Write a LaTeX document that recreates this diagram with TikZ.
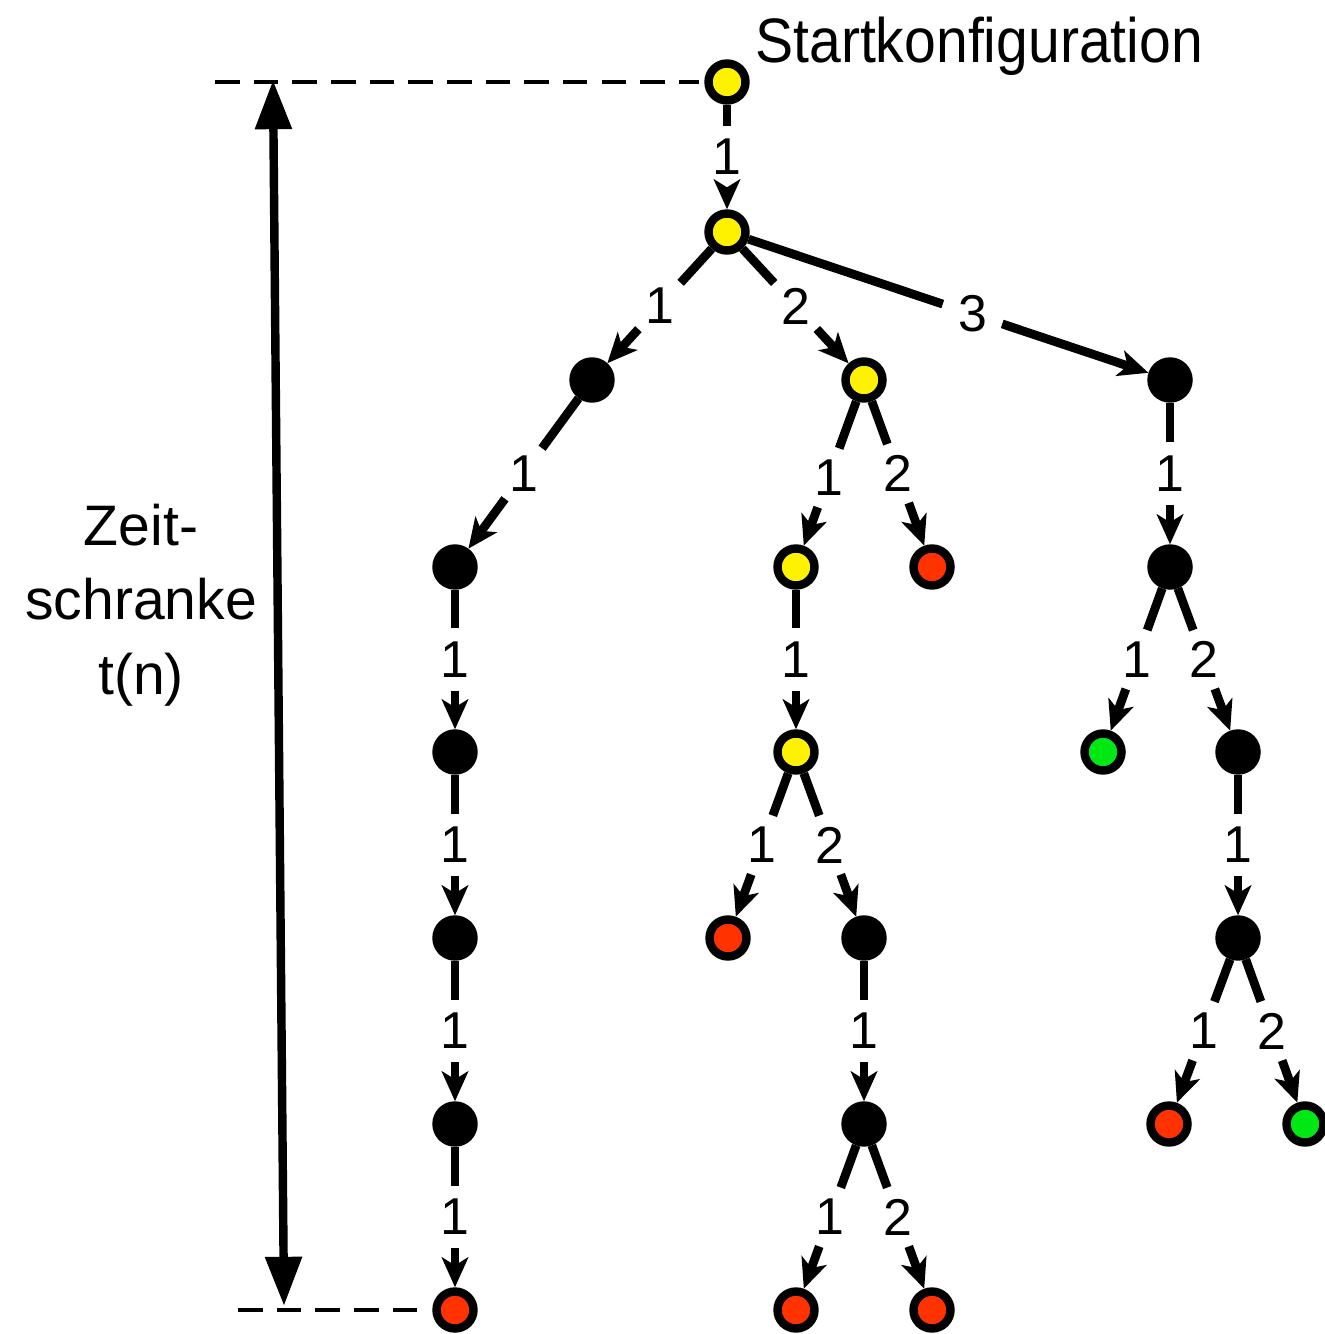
\documentclass[tikz,border=0pt]{standalone}
\usepackage{fontspec}
\setmainfont{Liberation Sans}
\usetikzlibrary{arrows.meta}
\definecolor{nyellow}{RGB}{255,242,0}
\definecolor{nred}{RGB}{255,50,0}
\definecolor{ngreen}{RGB}{0,232,20}
\newcommand\tedge[5][0.5]{%
  \path (#2) -- node[lbl,pos=#1] (#5) {#4} (#3);
  \draw[eline] (#2) -- (#5);
  \draw[eline,arr] (#5) -- (#3);}
\begin{document}
\begin{tikzpicture}[x=0.02cm,y=-0.02cm,
  cnode/.style={circle,draw=black,line width=4.8pt,minimum size=0.74cm,inner sep=0pt},
  yn/.style={cnode,fill=nyellow},
  rn/.style={cnode,fill=nred},
  gn/.style={cnode,fill=ngreen},
  bn/.style={cnode,fill=black},
  lbl/.style={circle,minimum size=1.24cm,inner sep=0pt,font=\fontsize{29.5}{29.5}\selectfont},
  eline/.style={line width=5pt,line cap=butt},
  arr/.style={-{Stealth[length=17pt,width=15pt,inset=4.5pt]}},
  dashl/.style={line width=2.6pt,dash pattern=on 14pt off 8pt},
  bigtxt/.style={font=\fontsize{32.5}{42.5}\selectfont}
]
\useasboundingbox (0,0) rectangle (1324,1334);

% configuration nodes
\node[yn] (s0) at (727,82) {};
\node[yn] (s1) at (727,232) {};
\node[bn] (a) at (592,380) {};
\node[yn] (b) at (864,380) {};
\node[bn] (c) at (1170,380) {};
\node[bn] (a1) at (455,567) {};
\node[yn] (b1) at (796,567) {};
\node[rn] (b2) at (932,567) {};
\node[bn] (c1) at (1170,567) {};
\node[bn] (a2) at (455,752) {};
\node[yn] (b11) at (796,752) {};
\node[gn] (c11) at (1103,752) {};
\node[bn] (c12) at (1238,752) {};
\node[bn] (a3) at (455,938) {};
\node[rn] (b111) at (728,938) {};
\node[bn] (b112) at (864,938) {};
\node[bn] (c121) at (1238,938) {};
\node[bn] (a4) at (455,1124) {};
\node[bn] (b1121) at (864,1124) {};
\node[rn] (c1211) at (1169,1124) {};
\node[gn] (c1212) at (1305,1124) {};
\node[rn] (a5) at (455,1310) {};
\node[rn] (b11211) at (796,1310) {};
\node[rn] (b11212) at (932,1310) {};

% edges
\tedge{s0}{s1}{1}{l01}
\tedge{s1}{a}{1}{l1a}
\tedge{s1}{b}{2}{l1b}
\tedge[0.56]{s1}{c}{3}{l1c}
\tedge{a}{a1}{1}{la1}
\tedge[0.53]{b}{b1}{1}{lb1}
\tedge{b}{b2}{2}{lb2}
\tedge{c}{c1}{1}{lc1}
\tedge{a1}{a2}{1}{la2}
\tedge{a2}{a3}{1}{la3}
\tedge{a3}{a4}{1}{la4}
\tedge{a4}{a5}{1}{la5}
\tedge{b1}{b11}{1}{lb11}
\tedge{b11}{b111}{1}{lb111}
\tedge{b11}{b112}{2}{lb112}
\tedge{b112}{b1121}{1}{lb1121}
\tedge{b1121}{b11211}{1}{lb11211}
\tedge{b1121}{b11212}{2}{lb11212}
\tedge{c1}{c11}{1}{lc11}
\tedge{c1}{c12}{2}{lc12}
\tedge{c12}{c121}{1}{lc121}
\tedge{c121}{c1211}{1}{lc1211}
\tedge{c121}{c1212}{2}{lc1212}

% time bound
\coordinate (dtl) at (215,82);
\coordinate (dbl) at (238,1310);
\draw[dashl,shorten >=3pt] (dtl) -- (s0);
\draw[dashl,shorten >=8pt] (dbl) -- (a5);
\coordinate (ztop) at (273,80);
\coordinate (zbot) at (284,1306);
\draw[line width=4.8pt,{Triangle[length=28pt,width=20pt]}-{Triangle[length=28pt,width=20pt]}] (ztop) -- (zbot);

% texts
\node[bigtxt,align=center] (zeit) at (141,605) {Zeit-\\schranke\\t(n)};
\node[bigtxt,anchor=base west,inner sep=0pt] (start) at (755,63) {\scalebox{1}[1.1]{Startkonfiguration}};
\end{tikzpicture}
\end{document}
